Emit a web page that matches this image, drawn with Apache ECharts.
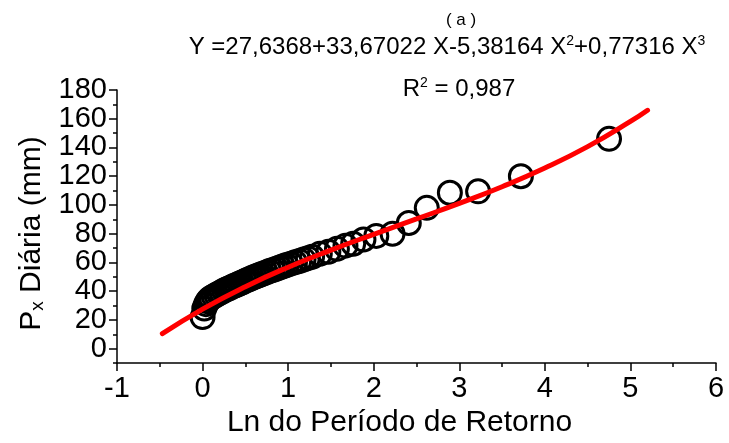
<!DOCTYPE html>
<html>
<head>
<meta charset="utf-8">
<script src="https://cdn.jsdelivr.net/npm/echarts@6/dist/echarts.min.js"></script>
<style>
	html, body { margin: 0; padding: 0; background: #fff; }
	#chart { width: 729px; height: 443px; }
</style>
</head>
<body>
<div id="chart"></div>
<script>
// observed points : ln of return period vs daily precipitation (mm)
var lnT = [0.00, 0.02, 0.04, 0.06, 0.08, 0.10, 0.13, 0.16, 0.19, 0.22,
	0.25, 0.28, 0.31, 0.34, 0.37, 0.40, 0.43, 0.46, 0.49, 0.52,
	0.55, 0.58, 0.61, 0.64, 0.67, 0.70, 0.74, 0.78, 0.82, 0.86,
	0.90, 0.94, 0.98, 1.03, 1.08, 1.13, 1.18, 1.23, 1.28, 1.37,
	1.47, 1.57, 1.67, 1.76, 1.88, 2.03, 2.22, 2.41, 2.62, 2.89,
	3.22, 3.72, 4.75];
var precip = [22, 28, 31, 33, 34.5, 35.5, 36.5, 37.5, 38.5, 39.5,
	40.5, 41.3, 42, 43, 43.8, 44.5, 45.3, 46, 47, 47.8,
	48.5, 49.3, 50, 50.8, 51.5, 52.2, 53, 54, 54.8, 55.6,
	56.5, 57.3, 58.2, 59.2, 60.2, 61, 62, 63, 64, 66,
	67.5, 69.5, 71.7, 73, 76, 78.5, 80, 87.5, 98, 108.5,
	109.5, 120, 146];

// fitted curve
var fitX = [-0.47, 0, 0.5, 1, 1.5, 2, 2.5, 3, 3.5, 4, 4.5, 5, 5.2];
var fitY = [10.5, 27.6, 43.2, 56.7, 68.6, 79.6, 90.3, 101.1, 112.7, 125.7, 140.6, 158.1, 165.9];

var yMajorTicks = [0, 20, 40, 60, 80, 100, 120, 140, 160, 180];

function FitChart(divId) {
	var _points = [];
	var _curve = [];
	var chartOption;
	var myChart = echarts.init(document.getElementById(divId));
	var font = 'Liberation Sans';

	function pairs(xs, ys) {
		var out = [];
		for (var i = 0; i < xs.length; i++) {
			out.push([xs[i], ys[i]]);
		}
		return out;
	}

	function initOption() {
		var supStyle = { fontSize: 14, fontWeight: 'normal', fontFamily: font, color: '#000', padding: [0, 0, 13, 0] };
		var txtStyle = { fontSize: 24, fontWeight: 'normal', fontFamily: font, color: '#000' };

		chartOption = {
			animation: false,
			title: [
				{
					text: '( a )',
					left: 456, top: 7,
					textAlign: 'center',
					textStyle: { fontSize: 17, fontWeight: 'normal', fontFamily: font, color: '#000' }
				},
				{
					text: '{t|Y =27,6368+33,67022 X-5,38164 X}{s|2}{t|+0,77316 X}{s|3}',
					left: 442, top: 29,
					textAlign: 'center',
					textStyle: { fontWeight: 'normal', rich: { t: txtStyle, s: supStyle } }
				},
				{
					text: '{t|R}{s|2}{t| = 0,987}',
					left: 454, top: 71,
					textAlign: 'center',
					textStyle: { fontWeight: 'normal', rich: { t: txtStyle, s: supStyle } }
				}
			],
			grid: { left: 117, right: 13, top: 90, bottom: 78, containLabel: false },
			xAxis: {
				type: 'value',
				min: -1, max: 6, interval: 1,
				name: 'Ln do Período de Retorno',
				nameLocation: 'middle',
				nameGap: 33,
				nameTextStyle: { fontSize: 30, fontFamily: font, color: '#000', padding: [0, 34, 0, 0] },
				axisLine: { onZero: false, lineStyle: { color: '#000', width: 1.5 } },
				axisTick: { length: 8, lineStyle: { color: '#000', width: 1.5 } },
				minorTick: { show: true, splitNumber: 2, length: 4, lineStyle: { color: '#000', width: 1.5 } },
				axisLabel: { fontSize: 29, fontFamily: font, color: '#000', margin: 11 },
				splitLine: { show: false }
			},
			yAxis: [
				{
					type: 'value',
					min: -10, max: 180, interval: 10,
					name: '{a|P}{b|x}{a| Diária (mm)}',
					nameLocation: 'middle',
					nameGap: 66,
					nameRotate: 90,
					nameTextStyle: {
						padding: [0, 0, 0, -14],
						rich: {
							a: { fontSize: 30, fontFamily: font, color: '#000' },
							b: { fontSize: 19, fontFamily: font, color: '#000', padding: [12, 0, 0, 0] }
						}
					},
					axisLine: { onZero: false, lineStyle: { color: '#000', width: 1.5 } },
					axisTick: { length: 4, lineStyle: { color: '#000', width: 1.5 } },
					axisLabel: {
						fontSize: 29, fontFamily: font, color: '#000', margin: 10,
						formatter: function (v) {
							return yMajorTicks.indexOf(v) >= 0 ? String(v) : '';
						}
					},
					splitLine: { show: false }
				},
				{
					// longer ticks on the labelled values
					type: 'value',
					position: 'left',
					min: -10, max: 180, interval: 10,
					axisLine: { show: false, onZero: false },
					axisTick: { length: 8, customValues: yMajorTicks, lineStyle: { color: '#000', width: 1.5 } },
					axisLabel: { show: false },
					splitLine: { show: false }
				}
			],
			series: [
				{
					type: 'scatter',
					data: _points,
					symbol: 'circle',
					symbolSize: 23,
					itemStyle: { color: 'rgba(0,0,0,0)', borderColor: '#000', borderWidth: 3, opacity: 1 },
					z: 2
				},
				{
					type: 'line',
					data: _curve,
					smooth: true,
					showSymbol: false,
					lineStyle: { color: '#ff0000', width: 5, cap: 'round' },
					z: 3
				}
			]
		};
	}

	function repaint() {
		myChart.setOption(chartOption);
	}

	this.setData = function (xs, ys, cx, cy) {
		_points = pairs(xs, ys);
		_curve = pairs(cx, cy);
	};

	this.draw = function () {
		initOption();
		repaint();
	};

	// Constructor Code.
	this.setData(lnT, precip, fitX, fitY);
}

var chart = new FitChart('chart');
chart.draw();
</script>
</body>
</html>
